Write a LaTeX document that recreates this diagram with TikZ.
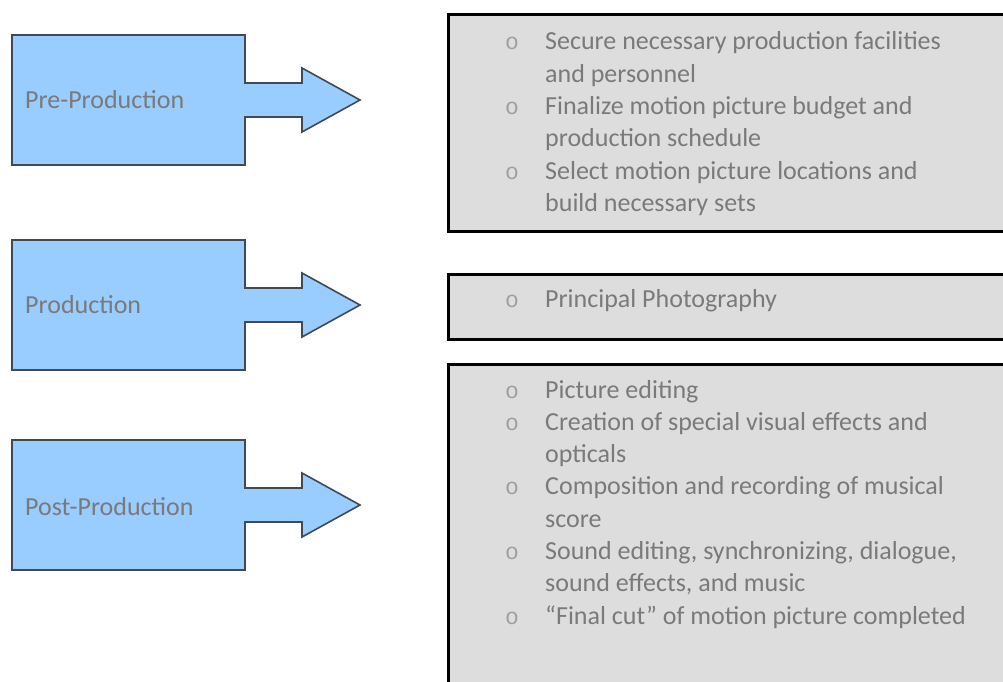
\documentclass[tikz,border=0pt]{standalone}
\usepackage{fontspec}
\setmainfont{Carlito}
\newfontfamily\bulfont{Liberation Mono}
\definecolor{stageblue}{HTML}{99CCFF}
\definecolor{stageedge}{HTML}{404A55}
\definecolor{boxgray}{HTML}{DDDDDD}
\definecolor{txtgray}{HTML}{7A7A7A}
\definecolor{bulgray}{HTML}{A0A0A0}
\newcommand{\bul}{\makebox[40pt][l]{\bulfont\fontsize{23}{23}\selectfont\color{bulgray}o}}
\newcommand{\nob}{\makebox[40pt][l]{}}
\begin{document}
\begin{tikzpicture}[x=1pt,y=-1pt,
  stagearrow/.style={fill=stageblue,draw=stageedge,line width=1.6pt,line join=miter},
  stagelabel/.style={anchor=west,inner sep=0pt,text=txtgray,font=\fontsize{26}{30}\selectfont},
  infobox/.style={fill=boxgray,draw=black,line width=3pt,anchor=north west,inner sep=0pt},
  listtext/.style={anchor=base west,inner sep=0pt,text=txtgray,font=\fontsize{26}{32.3}\selectfont}]
\useasboundingbox (0,0) rectangle (1003,682);
\clip (0,0) rectangle (1003,682);
% stage arrows
\foreach \c in {100,305,505}{
  \draw[stagearrow] (12,\c-65) -- (245,\c-65) -- (245,\c-17) -- (302,\c-17) -- (302,\c-32)
    -- (360,\c) -- (302,\c+32) -- (302,\c+17) -- (245,\c+17) -- (245,\c+65) -- (12,\c+65) -- cycle;
}
\node[stagelabel] (pre) at (25,100) {Pre-Production};
\node[stagelabel] (prod) at (25,305) {Production};
\node[stagelabel] (post) at (25,507) {Post-Production};
% info boxes
\node[infobox,minimum width=580pt,minimum height=216pt] (b1) at (446.5,13.5) {};
\node[infobox,minimum width=580pt,minimum height=65pt] (b2) at (446.5,272.5) {};
\node[infobox,minimum width=580pt,minimum height=340pt] (b3) at (446.5,362.5) {};
\node[listtext] (t1) at (505,50) {\begin{tabular}[t]{@{}l@{}l@{}}
\bul & Secure necessary production facilities\\
\nob & and personnel\\
\bul & Finalize motion picture budget and\\
\nob & production schedule\\
\bul & Select motion picture locations and\\
\nob & build necessary sets
\end{tabular}};
\node[listtext] (t2) at (505,307) {\begin{tabular}[t]{@{}l@{}l@{}}
\bul & Principal Photography
\end{tabular}};
\node[listtext] (t3) at (505,398) {\begin{tabular}[t]{@{}l@{}l@{}}
\bul & Picture editing\\
\bul & Creation of special visual effects and\\
\nob & opticals\\
\bul & Composition and recording of musical\\
\nob & score\\
\bul & Sound editing, synchronizing, dialogue,\\
\nob & sound effects, and music\\
\bul & “Final cut” of motion picture completed
\end{tabular}};
\end{tikzpicture}
\end{document}
